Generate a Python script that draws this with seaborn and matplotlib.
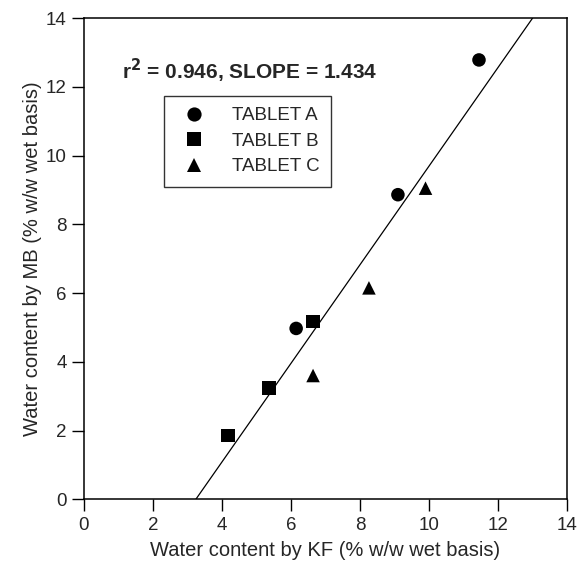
import numpy as np
import pandas as pd
import matplotlib
matplotlib.use("Agg")
import matplotlib.pyplot as plt
import seaborn as sns

# Данные
tablets = ["TABLET A", "TABLET B", "TABLET C"]
kf_a = [6.15, 9.10, 11.45]
mb_a = [4.97, 8.86, 12.78]
kf_b = [4.17, 5.36, 6.64]
mb_b = [1.85, 3.23, 5.17]
kf_c = [6.64, 8.26, 9.90]
mb_c = [3.60, 6.15, 9.05]

slope = 1.434
intercept = -4.65
r2 = 0.946

df = pd.DataFrame({
    "kf": kf_a + kf_b + kf_c,
    "mb": mb_a + mb_b + mb_c,
    "tablet": [tablets[0]] * 3 + [tablets[1]] * 3 + [tablets[2]] * 3,
})

sns.set_style("ticks")
plt.rcParams['font.family'] = ['Liberation Sans', 'DejaVu Sans']

fig = plt.figure(figsize=(5.78, 5.77), dpi=100)
ax = fig.add_axes([0.1453, 0.1347, 0.8356, 0.8341])

# Линия регрессии
xl = np.array([-intercept / slope, (14 - intercept) / slope])
ax.plot(xl, slope * xl + intercept, color="black", lw=0.9, zorder=1)

sns.scatterplot(data=df, x="kf", y="mb", style="tablet", hue="tablet",
                palette=["black"] * 3, markers=["o", "s", "^"], s=95,
                edgecolor="black", linewidth=0, ax=ax, zorder=3)

ax.set_xlim(0, 14)
ax.set_ylim(0, 14)
ax.set_xticks(range(0, 15, 2))
ax.set_yticks(range(0, 15, 2))
ax.tick_params(direction="out", length=8.5, width=1, labelsize=13.5,
               color="black", pad=4)
for sp in ax.spines.values():
    sp.set_linewidth(1.1)
    sp.set_color("black")

ax.set_xlabel("Water content by KF (% w/w wet basis)", fontsize=14.5, labelpad=5)
ax.set_ylabel("Water content by MB (% w/w wet basis)", fontsize=14.5, labelpad=3)

ax.text(1.1, 12.45, r"r$^{\mathbf{2}}$ = %.3f, SLOPE = %.3f" % (r2, slope),
        fontsize=15, fontweight="bold", va="center")

leg = ax.legend(title=None, loc="upper left", bbox_to_anchor=(0.166, 0.838),
                frameon=True, fancybox=False, edgecolor="black",
                fontsize=13.5, handletextpad=1.0, borderpad=0.6,
                labelspacing=0.45, borderaxespad=0, markerscale=1.05)
leg.get_frame().set_linewidth(1.0)

fig.savefig("out.png", dpi=100)
